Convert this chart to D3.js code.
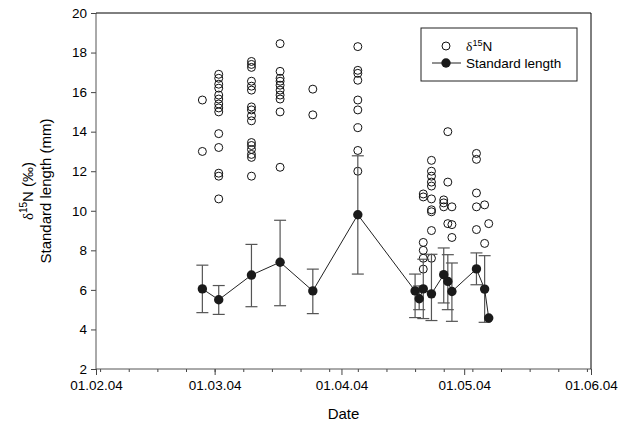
<!DOCTYPE html>
<html>
<head>
<meta charset="utf-8">
<script src="https://cdn.jsdelivr.net/npm/d3@7"></script>
<style>
  body { margin: 0; background: #fff; }
  svg { display: block; }
  text { font-family: "Liberation Sans", Arial, sans-serif; fill: #000; }
</style>
</head>
<body>
<svg id="chart" width="624" height="426"></svg>
<script>
// d15N samples, one column of open circles per sampling date
const n15Dates = ['2004-02-27', '2004-03-02', '2004-03-10', '2004-03-17', '2004-03-25', '2004-04-05',
  '2004-04-21', '2004-04-23', '2004-04-26', '2004-04-27', '2004-04-28', '2004-05-04', '2004-05-06', '2004-05-07']
const n15Values = [
  [15.6, 13.0],
  [16.9, 16.7, 16.4, 16.2, 15.85, 15.65, 15.4, 15.2, 15.0, 13.9, 13.2, 11.9, 11.75, 10.6],
  [17.55, 17.4, 17.25, 16.55, 16.3, 16.1, 15.25, 15.1, 14.8, 14.55, 13.45, 13.3, 13.1, 12.85, 12.7, 11.75],
  [18.45, 17.05, 16.7, 16.55, 16.35, 16.1, 15.85, 15.65, 15.0, 12.2],
  [16.15, 14.85],
  [18.3, 17.1, 16.95, 16.6, 15.6, 15.1, 14.2, 13.05, 12.0],
  [10.85, 10.7, 8.4, 8.0, 7.6, 7.05],
  [12.55, 12.0, 11.75, 11.45, 11.25, 10.6, 10.05, 9.95, 9.0, 7.6],
  [10.55, 10.4, 10.2],
  [14.0, 11.45, 9.35],
  [10.2, 9.3, 8.65],
  [12.9, 12.6, 10.9, 10.2, 9.05],
  [10.3, 8.35],
  [9.35]
]

// standard length, mean with error bar ends
const slDates = ['2004-02-27', '2004-03-02', '2004-03-10', '2004-03-17', '2004-03-25', '2004-04-05',
  '2004-04-19', '2004-04-20', '2004-04-21', '2004-04-23', '2004-04-26', '2004-04-27', '2004-04-28',
  '2004-05-04', '2004-05-06', '2004-05-07']
const slMean = [6.05, 5.5, 6.75, 7.4, 5.95, 9.8, 5.95, 5.55, 6.05, 5.8, 6.77, 6.43, 5.92, 7.06, 6.04, 4.58]
const slLow = [4.85, 4.76, 5.15, 5.2, 4.8, 6.8, 4.6, 5.0, 4.55, 4.45, 5.34, 5.0, 4.41, 6.26, 4.36, 4.58]
const slHigh = [7.25, 6.22, 8.3, 9.52, 7.05, 12.78, 6.8, 6.2, 7.55, 7.8, 8.12, 7.78, 7.36, 7.87, 7.73, 4.58]

const yTicks = [2, 4, 6, 8, 10, 12, 14, 16, 18, 20]
const xDomain = ['2004-02-01', '2004-06-01']

const parse = d3.timeParse('%Y-%m-%d')
const fmt = d3.timeFormat('%d.%m.%y')

const svg = d3.select('#chart')
const mLeft = 96, mRight = 591, mTop = 13, mBottom = 369

const x = d3.scaleTime().domain(xDomain.map(parse)).range([mLeft, mRight])
const y = d3.scaleLinear().domain([2, 20]).range([mBottom, mTop])

// minor (weekly) ticks on x
svg.append('g')
  .attr('transform', `translate(0,${mBottom})`)
  .call(d3.axisBottom(x).tickValues(d3.timeMonday.range(x.domain()[0], x.domain()[1])).tickSize(3).tickFormat(''))
  .call(g => g.select('.domain').remove())
  .call(g => g.selectAll('line').attr('stroke', '#444'))

// major (monthly) ticks on x
svg.append('g')
  .attr('transform', `translate(0,${mBottom})`)
  .call(d3.axisBottom(x).tickValues(d3.timeMonth.range(x.domain()[0], d3.timeDay.offset(x.domain()[1], 1)))
    .tickSize(6).tickPadding(5).tickFormat(fmt))
  .call(g => g.select('.domain').remove())
  .call(g => g.selectAll('line').attr('stroke', '#444'))
  .call(g => g.selectAll('text').style('font-size', '13.5px').style('font-family', '"Liberation Sans", Arial, sans-serif'))

// y axis
svg.append('g')
  .attr('transform', `translate(${mLeft},0)`)
  .call(d3.axisLeft(y).tickValues(yTicks).tickSize(5).tickPadding(4))
  .call(g => g.select('.domain').remove())
  .call(g => g.selectAll('line').attr('stroke', '#444'))
  .call(g => g.selectAll('text').style('font-size', '13.5px').style('font-family', '"Liberation Sans", Arial, sans-serif'))

// frame
svg.append('line').attr('x1', mLeft).attr('x2', mLeft).attr('y1', mTop).attr('y2', mBottom).attr('stroke', '#555')
svg.append('line').attr('x1', mLeft).attr('x2', mRight).attr('y1', mBottom).attr('y2', mBottom).attr('stroke', '#555')
svg.append('line').attr('x1', mLeft).attr('x2', mRight).attr('y1', mTop).attr('y2', mTop).attr('stroke', '#000')
svg.append('line').attr('x1', mRight).attr('x2', mRight).attr('y1', mTop).attr('y2', mBottom).attr('stroke', '#000')

// open circles
const pts = n15Dates.flatMap((d, i) => n15Values[i].map(v => ({ date: parse(d), v })))
svg.append('g').selectAll('circle')
  .data(pts)
  .enter()
  .append('circle')
  .attr('cx', d => x(d.date))
  .attr('cy', d => y(d.v))
  .attr('r', 4)
  .style('fill', 'none')
  .style('stroke', '#111')
  .style('stroke-width', 1)

// standard length
const sl = slDates.map((d, i) => ({ date: parse(d), m: slMean[i], lo: slLow[i], hi: slHigh[i] }))

const bars = svg.append('g').attr('stroke', '#555').attr('stroke-width', 1.2)
sl.filter(d => d.hi > d.lo).forEach(d => {
  const cx = x(d.date)
  bars.append('line').attr('x1', cx).attr('x2', cx).attr('y1', y(d.lo)).attr('y2', y(d.hi))
  bars.append('line').attr('x1', cx - 6).attr('x2', cx + 6).attr('y1', y(d.lo)).attr('y2', y(d.lo))
  bars.append('line').attr('x1', cx - 6).attr('x2', cx + 6).attr('y1', y(d.hi)).attr('y2', y(d.hi))
})

const line = d3.line()
  .x(d => x(d.date))
  .y(d => y(d.m))

svg.append('path')
  .datum(sl)
  .style('stroke', '#222')
  .style('stroke-width', 1)
  .style('fill', 'none')
  .attr('d', line)

svg.append('g').selectAll('circle')
  .data(sl)
  .enter()
  .append('circle')
  .attr('cx', d => x(d.date))
  .attr('cy', d => y(d.m))
  .attr('r', 4.7)
  .style('fill', '#1a1a1a')

// axis titles
const yt = svg.append('text')
  .attr('transform', `translate(33,${(mTop + mBottom) / 2}) rotate(-90)`)
  .attr('text-anchor', 'middle')
  .style('font-size', '15px')
yt.append('tspan').text('δ').style('font-family', '"Liberation Serif", serif')
yt.append('tspan').text('15').attr('dy', -6).style('font-size', '10px')
yt.append('tspan').text('N (‰)').attr('dy', 6)

svg.append('text')
  .attr('transform', `translate(51,${(mTop + mBottom) / 2}) rotate(-90)`)
  .attr('text-anchor', 'middle')
  .style('font-size', '15px')
  .text('Standard length (mm)')

svg.append('text')
  .attr('x', (mLeft + mRight) / 2)
  .attr('y', 419)
  .attr('text-anchor', 'middle')
  .style('font-size', '15px')
  .text('Date')

// legend
const lg = svg.append('g')
lg.append('rect')
  .attr('x', 421).attr('y', 28).attr('width', 156).attr('height', 53)
  .style('fill', '#fff').style('stroke', '#222')
lg.append('circle').attr('cx', 446).attr('cy', 46).attr('r', 4).style('fill', 'none').style('stroke', '#111')
const l1 = lg.append('text').attr('x', 466).attr('y', 51).style('font-size', '13.5px')
l1.append('tspan').text('δ').style('font-family', '"Liberation Serif", serif')
l1.append('tspan').text('15').attr('dy', -5).style('font-size', '9px')
l1.append('tspan').text('N').attr('dy', 5)
lg.append('line').attr('x1', 432).attr('x2', 461).attr('y1', 63).attr('y2', 63).style('stroke', '#222')
lg.append('circle').attr('cx', 446).attr('cy', 63).attr('r', 4.7).style('fill', '#1a1a1a')
lg.append('text').attr('x', 466).attr('y', 68).style('font-size', '13.5px').text('Standard length')
</script>
</body>
</html>
